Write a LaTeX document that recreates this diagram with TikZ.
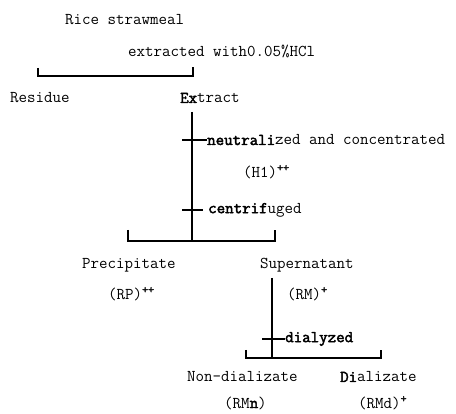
\documentclass[tikz,border=0pt]{standalone}
\usepackage{fontspec}
\setmainfont[AutoFakeBold=2.5]{Latin Modern Mono}
\begin{document}
\begin{tikzpicture}[x=1pt,y=-1pt,
  lbl/.style={anchor=west,inner sep=0pt,font=\fontsize{16.5}{18}\selectfont},
  brk/.style={line width=2pt},
  stem/.style={line width=1.5pt},
  tick/.style={line width=1.5pt}]
\useasboundingbox (0,0) rectangle (456,414);
\fill[white] (0,0) rectangle (456,414);
% texts
\node[lbl] (rice) at (65,20) {Rice strawmeal};
\node[lbl] (extr) at (128,51) {extracted  with0.05\%HCl};
\node[lbl] (res) at (10,98) {Residue};
\node[lbl] (ext) at (180,98) {\textbf{Ex}tract};
\node[lbl] (neut) at (207,140) {\textbf{neutrali}zed and concentrated};
\node[lbl] (hl) at (243,172) {(H1)\textsuperscript{\textbf{++}}};
\node[lbl] (cent) at (208,210) {\textbf{centrif}uged};
\node[lbl] (prec) at (82,265) {Precipitate};
\node[lbl] (sup) at (260,265) {Supernatant};
\node[lbl] (rp) at (108,294) {(RP)\textsuperscript{\textbf{++}}};
\node[lbl] (rm) at (287,294) {(RM)\textsuperscript{\textbf{+}}};
\node[lbl] (dial) at (285,339) {\textbf{dialyzed}};
\node[lbl] (nond) at (187,377) {Non-dializate};
\node[lbl] (dz) at (340,377) {\textbf{Di}alizate};
\node[lbl] (rmn) at (224,403) {(RM\textbf{n})};
\node[lbl] (rmd) at (358,403) {(RMd)\textsuperscript{\textbf{+}}};
% top bracket
\coordinate (b1l) at (38,76);
\coordinate (b1r) at (193,76);
\draw[brk] ([yshift=8pt]b1l) -- (b1l) -- (b1r) -- ([yshift=9pt]b1r);
% stem from Extract
\coordinate (s1t) at (192,112);
\coordinate (s1b) at (192,241);
\draw[stem] (s1t) -- (s1b);
\draw[tick] (182,140) -- (neut.west);
\draw[tick] (182,210) -- (203,210);
% second bracket
\coordinate (b2l) at (128,241);
\coordinate (b2r) at (275,241);
\draw[brk] ([yshift=11pt]b2l) -- (b2l) -- (b2r) -- ([yshift=11pt]b2r);
% stem from Supernatant
\coordinate (s2t) at (272,278);
\coordinate (s2b) at (272,358);
\draw[stem] (s2t) -- (s2b);
\draw[tick] (262,339) -- (dial.west);
% third bracket
\coordinate (b3l) at (246,358);
\coordinate (b3r) at (381,358);
\draw[brk] ([yshift=8pt]b3l) -- (b3l) -- (b3r) -- ([yshift=8pt]b3r);
\end{tikzpicture}
\end{document}
